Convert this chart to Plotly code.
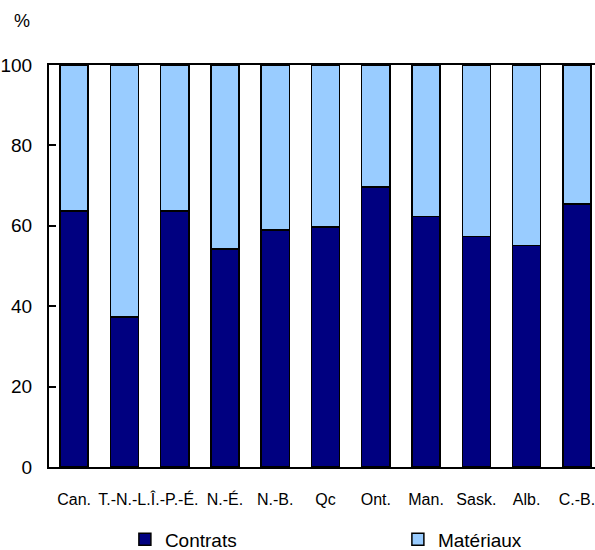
import plotly.graph_objects as go

categories = ["Can.", "T.-N.-L.", "Î.-P.-É.", "N.-É.", "N.-B.", "Qc", "Ont.", "Man.", "Sask.", "Alb.", "C.-B."]
contrats = [63.7, 37.3, 63.7, 54.2, 59.0, 59.7, 69.7, 62.3, 57.3, 55.1, 65.4]
materiaux = [round(100 - v, 1) for v in contrats]
y_ticks = [0, 20, 40, 60, 80, 100]

fig = go.Figure()
fig.add_trace(go.Bar(
    x=categories, y=contrats, name="Contrats", legend="legend",
    marker=dict(color="#000080", line=dict(color="#000000", width=1.5)),
))
fig.add_trace(go.Bar(
    x=categories, y=materiaux, name="Matériaux", legend="legend2",
    marker=dict(color="#99CCFF", line=dict(color="#000000", width=1.5)),
))

legend_common = dict(
    orientation="h", xanchor="left", y=-0.18, yanchor="middle",
    font=dict(size=19), bgcolor="rgba(0,0,0,0)", borderwidth=0,
)

fig.update_layout(
    barmode="stack",
    bargap=0.44,
    width=595, height=550,
    margin=dict(l=49, r=0, t=65, b=83, autoexpand=False),
    paper_bgcolor="white", plot_bgcolor="white",
    font=dict(family="Liberation Sans, Arial, sans-serif", size=19, color="#000000"),
    showlegend=True,
    legend=dict(x=0.139, **legend_common),
    legend2=dict(x=0.639, **legend_common),
    xaxis=dict(
        type="category", range=[-0.5, 10.36],
        showline=True, linecolor="#000000", linewidth=2, mirror=True,
        ticks="", showgrid=False, tickangle=0,
        tickfont=dict(family="Liberation Sans Narrow, Arial Narrow, sans-serif", size=16),
        ticklabelstandoff=17,
    ),
    yaxis=dict(
        range=[0, 100], tickvals=y_ticks,
        showline=True, linecolor="#000000", linewidth=2,
        ticks="inside", ticklen=7, tickwidth=2, tickcolor="#000000",
        showgrid=False, zeroline=False,
        tickfont=dict(size=19), ticklabelstandoff=11,
    ),
    annotations=[dict(
        text="%", xref="paper", yref="paper", x=-0.05, y=1.0,
        xanchor="center", yanchor="bottom", yshift=32, showarrow=False,
        font=dict(size=18),
    )],
)

fig.write_html("out.html", config={"displayModeBar": False},
               post_script="document.body.style.margin='0';")
